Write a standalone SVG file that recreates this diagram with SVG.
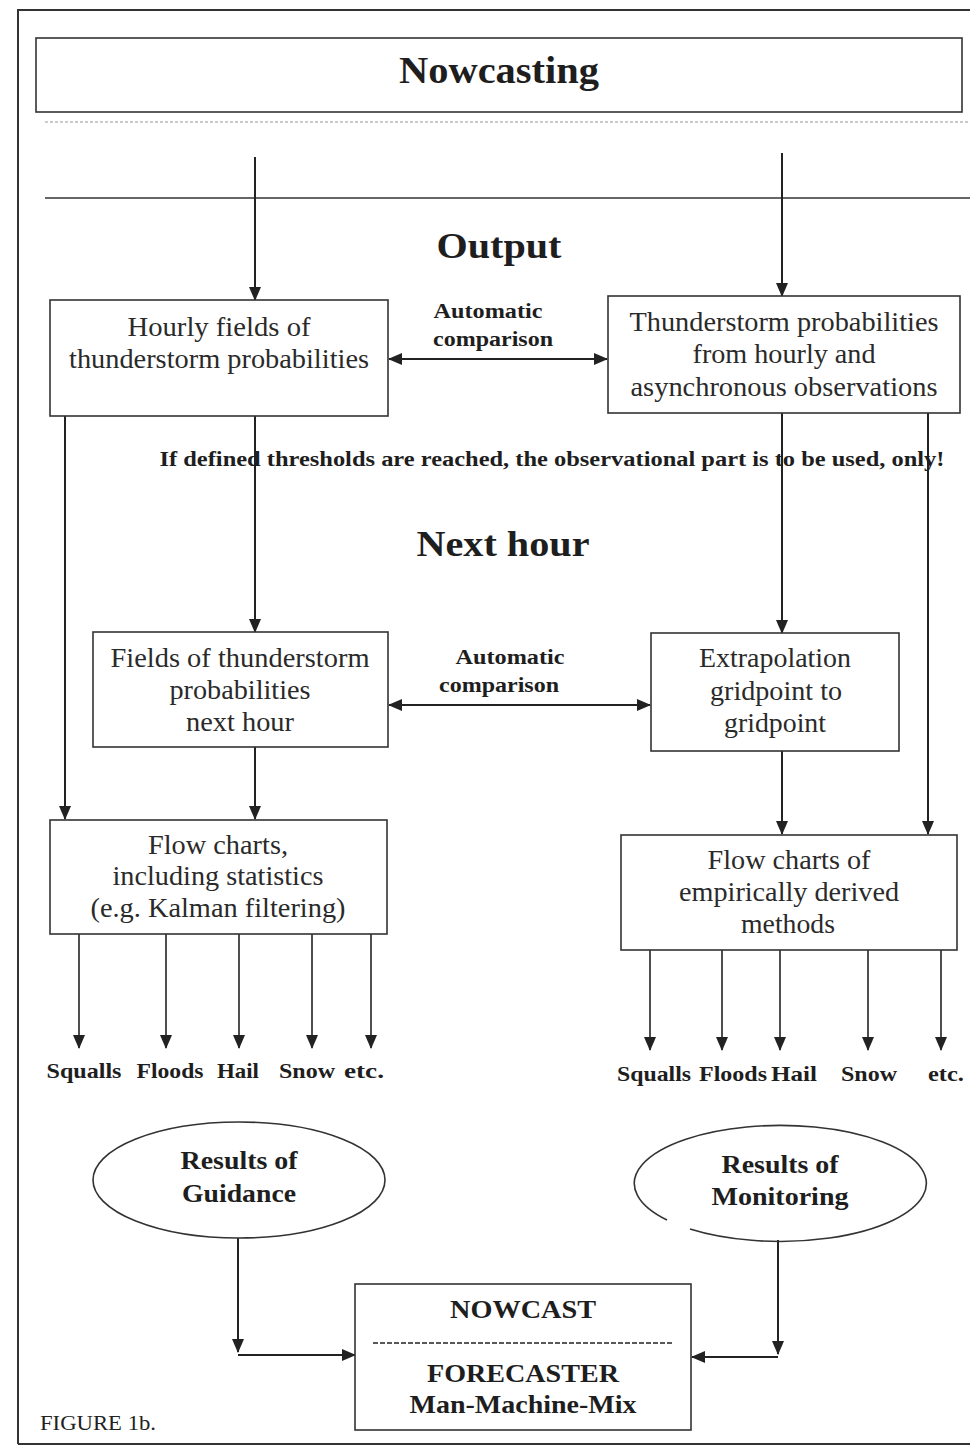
<svg xmlns="http://www.w3.org/2000/svg" width="970" height="1448" viewBox="0 0 970 1448">
<defs>
<marker id="ah" viewBox="0 0 14 12" markerWidth="14" markerHeight="12" refX="13" refY="6" orient="auto-start-reverse" markerUnits="userSpaceOnUse">
<path d="M0,0 L14,6 L0,12 z" fill="#222"/>
</marker>
<style>
.box{fill:#fff;stroke:#333;stroke-width:1.6}
.ln{stroke:#222;stroke-width:2;fill:none}
.ln2{stroke:#222;stroke-width:1.6;fill:none}
.t{font-family:"Liberation Serif","Times New Roman",serif;font-size:27px;fill:#2a2a2a;text-anchor:middle}
.b{font-family:"Liberation Serif","Times New Roman",serif;font-weight:bold;fill:#1e1e1e;text-anchor:middle}
</style>
</defs>
<rect width="970" height="1448" fill="#fff"/>
<path d="M18,1444 V10 H972 M18,1444 H972" fill="none" stroke="#333" stroke-width="2"/>
<line x1="45" y1="122" x2="970" y2="122" stroke="#bbb" stroke-width="1.5" stroke-dasharray="3,2"/>
<line x1="45" y1="198" x2="970" y2="198" stroke="#333" stroke-width="1.6"/>

<g id="title">
<rect class="box" x="36" y="38" width="926" height="74" stroke-width="2"/>
<text class="b" x="499" y="83" font-size="38" textLength="200" lengthAdjust="spacingAndGlyphs">Nowcasting</text>
</g>
<g id="output-label"><text class="b" x="499" y="258" font-size="36" textLength="125" lengthAdjust="spacingAndGlyphs">Output</text></g>
<g id="nexthour-label"><text class="b" x="503" y="556" font-size="36" textLength="173" lengthAdjust="spacingAndGlyphs">Next hour</text></g>

<g id="connectors">
<line class="ln" x1="255" y1="157" x2="255" y2="300" marker-end="url(#ah)"/>
<line class="ln" x1="782" y1="153" x2="782" y2="296" marker-end="url(#ah)"/>
<line class="ln" x1="389" y1="359" x2="607" y2="359" marker-start="url(#ah)" marker-end="url(#ah)"/>
<line class="ln" x1="65" y1="416" x2="65" y2="819" marker-end="url(#ah)"/>
<line class="ln" x1="255" y1="416" x2="255" y2="632" marker-end="url(#ah)"/>
<line class="ln" x1="782" y1="413" x2="782" y2="633" marker-end="url(#ah)"/>
<line class="ln" x1="928" y1="413" x2="928" y2="834" marker-end="url(#ah)"/>
<line class="ln" x1="389" y1="705" x2="650" y2="705" marker-start="url(#ah)" marker-end="url(#ah)"/>
<line class="ln" x1="255" y1="747" x2="255" y2="819" marker-end="url(#ah)"/>
<line class="ln" x1="782" y1="751" x2="782" y2="834" marker-end="url(#ah)"/>
<line class="ln2" x1="79" y1="934" x2="79" y2="1048" marker-end="url(#ah)"/>
<line class="ln2" x1="166" y1="934" x2="166" y2="1048" marker-end="url(#ah)"/>
<line class="ln2" x1="239" y1="934" x2="239" y2="1048" marker-end="url(#ah)"/>
<line class="ln2" x1="312" y1="934" x2="312" y2="1048" marker-end="url(#ah)"/>
<line class="ln2" x1="371" y1="934" x2="371" y2="1048" marker-end="url(#ah)"/>
<line class="ln2" x1="650" y1="950" x2="650" y2="1050" marker-end="url(#ah)"/>
<line class="ln2" x1="722" y1="950" x2="722" y2="1050" marker-end="url(#ah)"/>
<line class="ln2" x1="780" y1="950" x2="780" y2="1050" marker-end="url(#ah)"/>
<line class="ln2" x1="868" y1="950" x2="868" y2="1050" marker-end="url(#ah)"/>
<line class="ln2" x1="941" y1="950" x2="941" y2="1050" marker-end="url(#ah)"/>
<line class="ln" x1="238" y1="1238" x2="238" y2="1352" marker-end="url(#ah)"/>
<line class="ln" x1="238" y1="1355" x2="355" y2="1355" marker-end="url(#ah)"/>
<line class="ln" x1="778" y1="1240" x2="778" y2="1354" marker-end="url(#ah)"/>
<line class="ln" x1="778" y1="1357" x2="692" y2="1357" marker-end="url(#ah)"/>
</g>

<g id="auto1">
<text class="b" x="488" y="318" font-size="20" textLength="109" lengthAdjust="spacingAndGlyphs">Automatic</text>
<text class="b" x="493" y="346" font-size="20" textLength="120" lengthAdjust="spacingAndGlyphs">comparison</text>
</g>
<g id="auto2">
<text class="b" x="510" y="664" font-size="20" textLength="109" lengthAdjust="spacingAndGlyphs">Automatic</text>
<text class="b" x="499" y="692" font-size="20" textLength="120" lengthAdjust="spacingAndGlyphs">comparison</text>
</g>
<g id="threshold-note">
<text class="b" x="552" y="466" font-size="20" textLength="785" lengthAdjust="spacingAndGlyphs">If defined thresholds are reached, the observational part is to be used, only!</text>
</g>

<g id="hourly-fields">
<rect class="box" x="50" y="300" width="338" height="116"/>
<text class="t" x="219" y="336" textLength="183" lengthAdjust="spacingAndGlyphs">Hourly fields of</text>
<text class="t" x="219" y="368" textLength="300" lengthAdjust="spacingAndGlyphs">thunderstorm probabilities</text>
</g>
<g id="ts-probabilities">
<rect class="box" x="608" y="296" width="352" height="117"/>
<text class="t" x="784" y="331" textLength="309" lengthAdjust="spacingAndGlyphs">Thunderstorm probabilities</text>
<text class="t" x="784" y="363" textLength="183" lengthAdjust="spacingAndGlyphs">from hourly and</text>
<text class="t" x="784" y="396" textLength="307" lengthAdjust="spacingAndGlyphs">asynchronous observations</text>
</g>
<g id="fields-next-hour">
<rect class="box" x="93" y="632" width="295" height="115"/>
<text class="t" x="240" y="667" textLength="259" lengthAdjust="spacingAndGlyphs">Fields of thunderstorm</text>
<text class="t" x="240" y="699" textLength="141" lengthAdjust="spacingAndGlyphs">probabilities</text>
<text class="t" x="240" y="731" textLength="108" lengthAdjust="spacingAndGlyphs">next hour</text>
</g>
<g id="extrapolation">
<rect class="box" x="651" y="633" width="248" height="118"/>
<text class="t" x="775" y="667" textLength="152" lengthAdjust="spacingAndGlyphs">Extrapolation</text>
<text class="t" x="776" y="700" textLength="132" lengthAdjust="spacingAndGlyphs">gridpoint to</text>
<text class="t" x="775" y="732" textLength="102" lengthAdjust="spacingAndGlyphs">gridpoint</text>
</g>
<g id="flow-charts-stats">
<rect class="box" x="50" y="820" width="337" height="114"/>
<text class="t" x="218" y="854" textLength="140" lengthAdjust="spacingAndGlyphs">Flow charts,</text>
<text class="t" x="218" y="885" textLength="211" lengthAdjust="spacingAndGlyphs">including statistics</text>
<text class="t" x="218" y="917" textLength="255" lengthAdjust="spacingAndGlyphs">(e.g. Kalman filtering)</text>
</g>
<g id="flow-charts-empirical">
<rect class="box" x="621" y="835" width="336" height="115"/>
<text class="t" x="789" y="869" textLength="163" lengthAdjust="spacingAndGlyphs">Flow charts of</text>
<text class="t" x="789" y="901" textLength="220" lengthAdjust="spacingAndGlyphs">empirically derived</text>
<text class="t" x="788" y="933" textLength="94" lengthAdjust="spacingAndGlyphs">methods</text>
</g>

<g id="left-outputs">
<text class="b" x="84" y="1078" font-size="21" textLength="75" lengthAdjust="spacingAndGlyphs">Squalls</text>
<text class="b" x="170" y="1078" font-size="21" textLength="67" lengthAdjust="spacingAndGlyphs">Floods</text>
<text class="b" x="238" y="1078" font-size="21" textLength="42" lengthAdjust="spacingAndGlyphs">Hail</text>
<text class="b" x="307" y="1078" font-size="21" textLength="56" lengthAdjust="spacingAndGlyphs">Snow</text>
<text class="b" x="364" y="1078" font-size="21" textLength="40" lengthAdjust="spacingAndGlyphs">etc.</text>
</g>
<g id="right-outputs">
<text class="b" x="654" y="1081" font-size="21" textLength="74" lengthAdjust="spacingAndGlyphs">Squalls</text>
<text class="b" x="733" y="1081" font-size="21" textLength="68" lengthAdjust="spacingAndGlyphs">Floods</text>
<text class="b" x="794" y="1081" font-size="21" textLength="46" lengthAdjust="spacingAndGlyphs">Hail</text>
<text class="b" x="869" y="1081" font-size="21" textLength="56" lengthAdjust="spacingAndGlyphs">Snow</text>
<text class="b" x="946" y="1081" font-size="21" textLength="36" lengthAdjust="spacingAndGlyphs">etc.</text>
</g>

<g id="guidance">
<ellipse cx="239" cy="1180" rx="146" ry="58" fill="#fff" stroke="#333" stroke-width="1.6"/>
<text class="b" x="239" y="1169" font-size="26" textLength="117" lengthAdjust="spacingAndGlyphs">Results of</text>
<text class="b" x="239" y="1202" font-size="26" textLength="114" lengthAdjust="spacingAndGlyphs">Guidance</text>
</g>
<g id="monitoring">
<path d="M667,1220 A146,58 0 1,1 690,1229" fill="none" stroke="#333" stroke-width="1.6"/>
<text class="b" x="780" y="1173" font-size="26" textLength="117" lengthAdjust="spacingAndGlyphs">Results of</text>
<text class="b" x="780" y="1205" font-size="26" textLength="137" lengthAdjust="spacingAndGlyphs">Monitoring</text>
</g>
<g id="nowcast">
<rect class="box" x="355" y="1284" width="336" height="146"/>
<text class="b" x="523" y="1318" font-size="25" textLength="146" lengthAdjust="spacingAndGlyphs">NOWCAST</text>
<line x1="373" y1="1343" x2="674" y2="1343" stroke="#222" stroke-width="1.6" stroke-dasharray="5,2"/>
<text class="b" x="523" y="1382" font-size="25" textLength="192" lengthAdjust="spacingAndGlyphs">FORECASTER</text>
<text class="b" x="523" y="1413" font-size="25" textLength="227" lengthAdjust="spacingAndGlyphs">Man-Machine-Mix</text>
</g>
<g id="figure-label">
<text font-family="'Liberation Serif','Times New Roman',serif" font-size="22" fill="#222" x="40" y="1430" textLength="116" lengthAdjust="spacingAndGlyphs">FIGURE 1b.</text>
</g>
</svg>
